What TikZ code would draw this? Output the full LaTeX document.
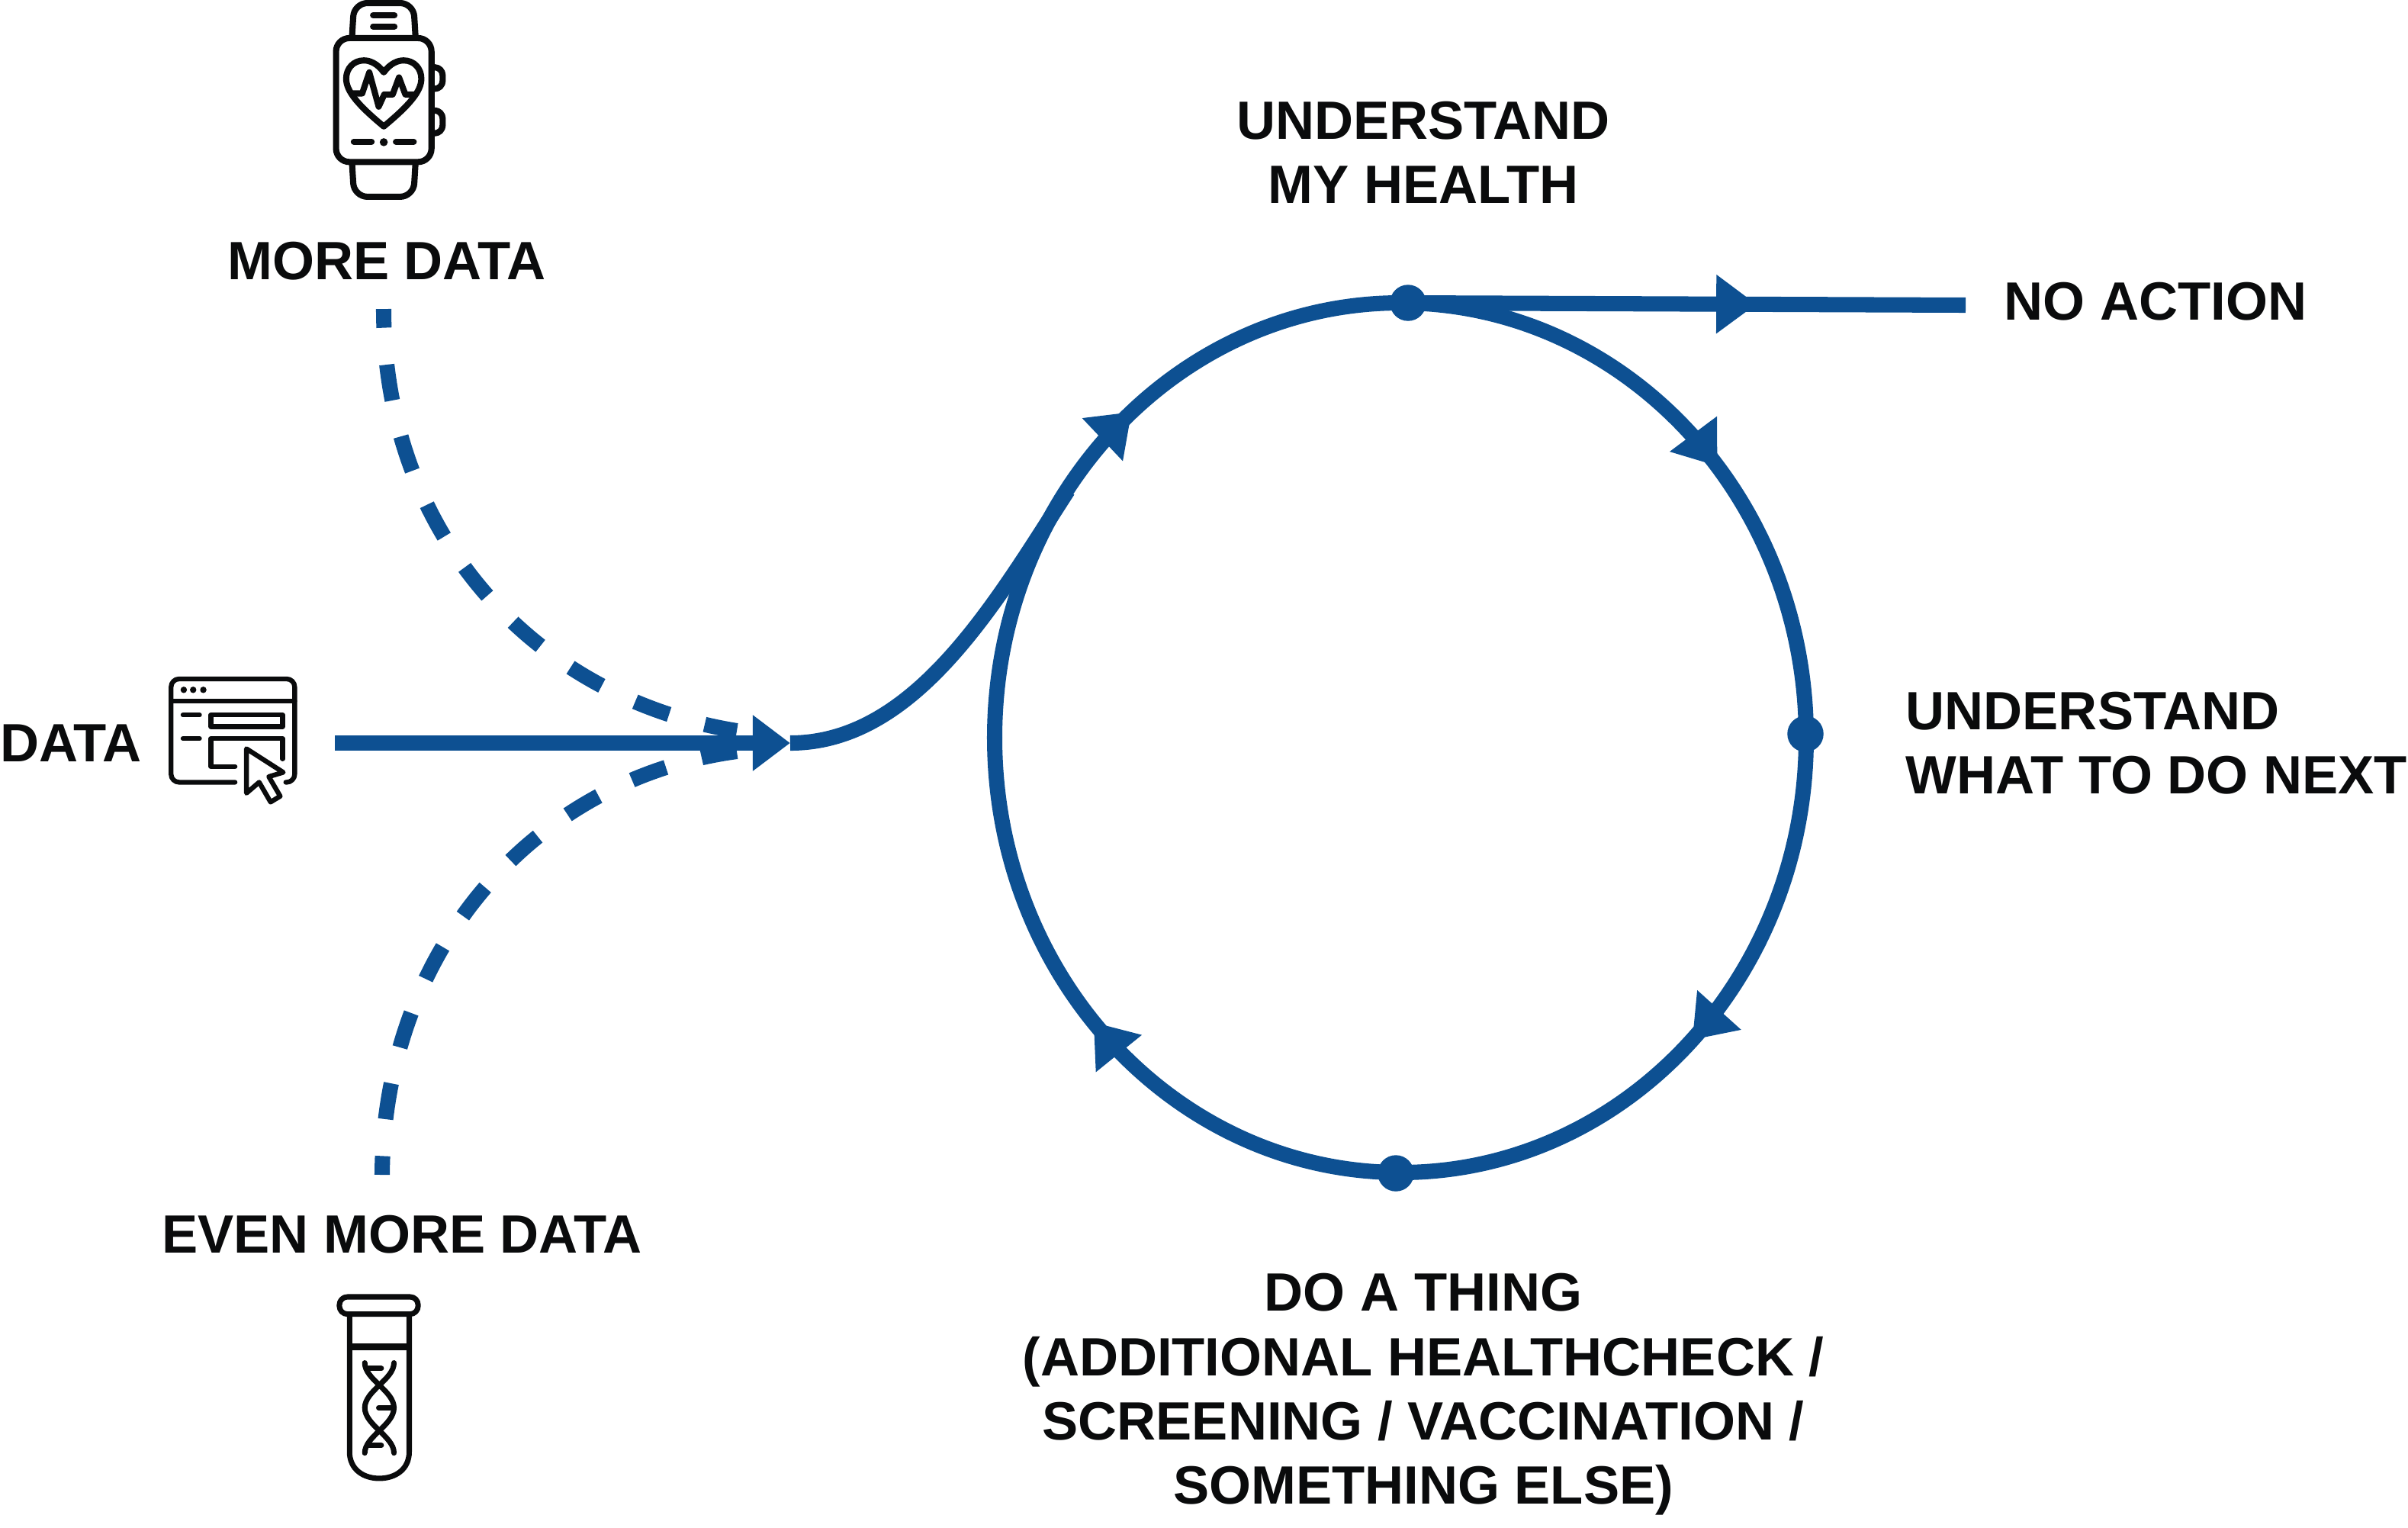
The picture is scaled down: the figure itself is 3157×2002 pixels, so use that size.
\documentclass[tikz,border=0pt]{standalone}
\usepackage{fontspec}
\setmainfont{Liberation Sans}
\usepackage{xcolor}
\usepackage{tikz}
\usetikzlibrary{arrows.meta,decorations.markings}
\definecolor{BlueLoop}{RGB}{13,80,146}
\definecolor{BlackIcon}{RGB}{10,11,12}
\tikzset{
    caption/.style={font=\fontsize{20.1}{24}\selectfont\bfseries,text=BlackIcon,inner sep=0pt},
    loopdot/.style={circle,fill=BlueLoop,inner sep=0pt,minimum size=13.5pt},
    flowline/.style={draw=BlueLoop,line width=5.7pt},
    dataline/.style={flowline,dash pattern=on 13.5pt off 13.8pt,dash phase=6.5pt},
    bigtip/.style={-{Triangle[length=14pt,width=20pt]}},
    midtip/.style={postaction={decorate,decoration={markings,
        mark=at position #1 with {\arrow{Triangle[length=15pt,width=21pt]}}}}},
    icon/.style={draw=BlackIcon,line width=#1,line cap=round,line join=round},
}
\begin{document}
\begin{tikzpicture}[x=0.01cm,y=-0.01cm,fill=BlueLoop]
    \useasboundingbox (0,0) rectangle (3157,2002);

    \coordinate (datastart) at (439,974);
    \coordinate (merge) at (1036,974);
    \coordinate (loopjoin) at (1400,643);
    \coordinate (moredata) at (503,405);
    \coordinate (evenmoredata) at (501,1540);
    \coordinate (noactionend) at (2577,400);

    \node[loopdot] (looptop) at (1846,397) {};
    \node[loopdot] (loopright) at (2367,962) {};
    \node[loopdot] (loopbottom) at (1830,1538) {};

    \draw[flowline,midtip=.56] (1836,397) arc[start angle=-90,end angle=0,x radius=532,y radius=570];
    \draw[flowline,midtip=.5] (2368,967) arc[start angle=0,end angle=90,x radius=532,y radius=570];
    \draw[flowline,midtip=.535] (1836,1537) arc[start angle=90,end angle=180,x radius=532,y radius=570];
    \draw[flowline,midtip=.55] (1304,967) arc[start angle=180,end angle=270,x radius=532,y radius=570];

    \draw[flowline,midtip=.625] (looptop.center) -- (noactionend);
    \draw[flowline,bigtip] (datastart) -- (merge);
    \draw[flowline] (merge) .. controls (1200,974) and (1305,790) .. (loopjoin);
    \draw[dataline] (moredata) .. controls (503,705) and (705,916) .. (966,958);
    \draw[dataline] (evenmoredata) .. controls (503,1240) and (705,1020) .. (966,985);

    \node[caption] (moretext) at (507,342) {MORE DATA};
    \node[caption] (datatext) at (93,974) {DATA};
    \node[caption] (evenmoretext) at (527,1618) {EVEN MORE DATA};
    \node[caption,align=center] (healthtext) at (1866,200) {UNDERSTAND\\MY HEALTH};
    \node[caption,anchor=west] (noactiontext) at (2627,395) {NO ACTION};
    \node[caption,anchor=west,align=left] (nexttext) at (2498,974) {UNDERSTAND\\WHAT TO DO NEXT};
    \node[caption,align=center] (thingtext) at (1866,1828) {DO A THING\\(ADDITIONAL HEALTHCHECK /\hspace*{.28em}\\SCREENING / VACCINATION /\hspace*{.28em}\\SOMETHING ELSE)};

    \begin{scope}[shift={(380,0)},x=0.00333cm,y=-0.00333cm,icon=2.3pt]
        \draw[rounded corners=5pt] (182,150) rectangle (558,638);
        \draw[rounded corners=5pt] (245,145) -- (253,12) -- (487,12) -- (495,145);
        \draw[rounded corners=5pt] (245,642) -- (253,775) -- (487,775) -- (495,642);
        \draw[rounded corners=3pt] (570,265) -- (602,265) -- (602,350) -- (570,350);
        \draw[rounded corners=3pt] (570,435) -- (602,435) -- (602,525) -- (570,525);
        \draw (328,60) -- (412,60) (328,104) -- (412,104);
        \draw (252,558) -- (322,558) (418,558) -- (488,558);
        \fill[BlackIcon] (370,560) circle (1.5pt);
        \draw (370,285) .. controls (345,250) and (315,238) .. (292,238) .. controls (250,238) and (222,270) .. (222,310) .. controls (222,360) and (270,415) .. (370,498)
            .. controls (470,415) and (518,360) .. (518,310) .. controls (518,270) and (490,238) .. (448,238) .. controls (425,238) and (395,250) .. (370,285) -- cycle;
        \draw (250,368) -- (285,368) -- (313,285) -- (350,420) -- (372,372) -- (405,372) -- (430,305) -- (455,372) -- (490,372);
    \end{scope}

    \begin{scope}[shift={(190,860)},x=0.00333cm,y=-0.00333cm,icon=1.8pt]
        \draw[rounded corners=3pt] (355,497) -- (103,497) -- (103,90) -- (590,90) -- (590,497) -- (555,497);
        \draw (103,177) -- (590,177);
        \foreach \dotx in {153,190,230}
            \fill[BlackIcon] (\dotx,133) circle (1.2pt);
        \draw (150,232) -- (215,232) (150,325) -- (215,325);
        \draw (260,232) rectangle (542,278);
        \draw (355,435) -- (260,435) -- (260,325) -- (542,325) -- (542,405);
        \draw (400,365) -- (545,458) -- (488,475) -- (533,552) -- (495,575) -- (450,497) -- (400,540) -- cycle;
    \end{scope}

    \begin{scope}[shift={(420,1680)},x=0.00333cm,y=-0.00333cm,icon=2pt]
        \draw[rounded corners=3pt] (75,60) rectangle (385,128);
        \draw (115,130) -- (115,670) .. controls (115,740) and (170,775) .. (232,775) .. controls (295,775) and (350,740) .. (350,670) -- (350,130);
        \draw[line width=2.4pt,line cap=butt] (115,257) -- (350,257);
        \draw (175,320) .. controls (175,385) and (290,430) .. (290,497) .. controls (290,565) and (175,610) .. (175,675);
        \draw (290,320) .. controls (290,385) and (175,430) .. (175,497) .. controls (175,565) and (290,610) .. (290,675);
        \draw (190,342) -- (240,342) (230,497) -- (290,497) (190,645) -- (240,645);
    \end{scope}
\end{tikzpicture}
\end{document}
